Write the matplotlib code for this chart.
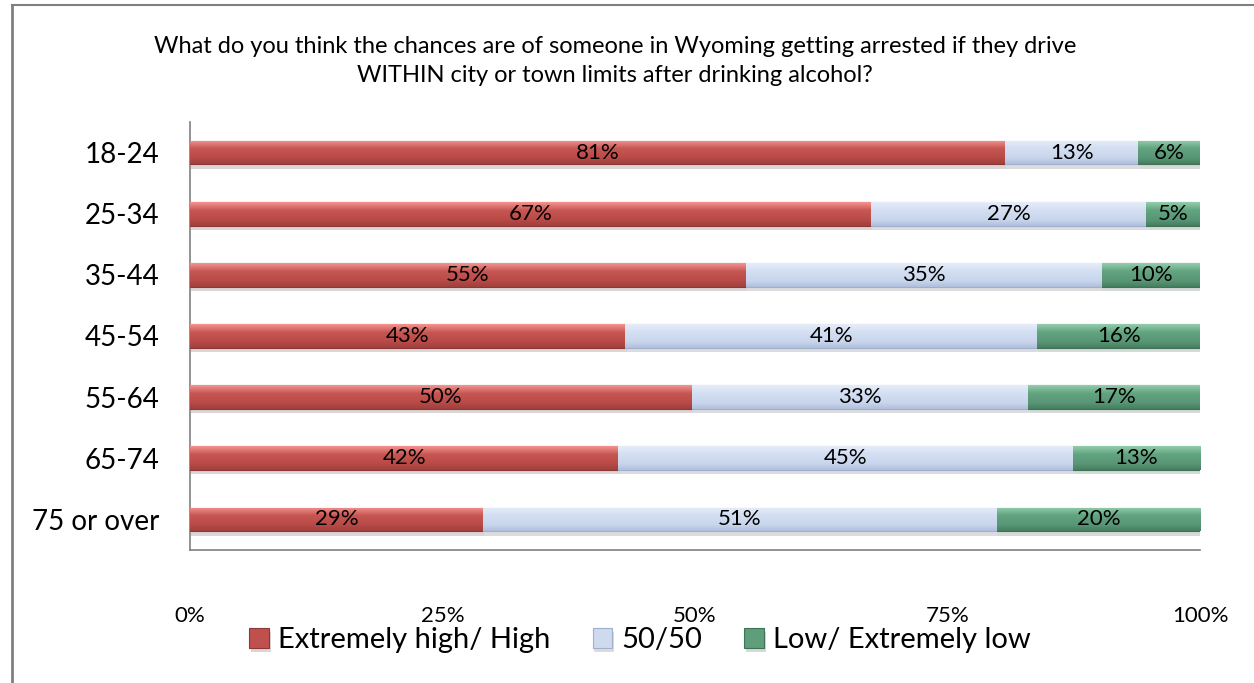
import matplotlib.pyplot as plt
import matplotlib.patheffects as pe
import numpy as np
from matplotlib.colors import LinearSegmentedColormap

plt.rcParams['font.family'] = ['Lato', 'DejaVu Sans']

groups = ['18-24', '25-34', '35-44', '45-54', '55-64', '65-74', '75 or over']
# shares (labels are rounded)
high = [80.7, 67.4, 55.0, 43.1, 49.7, 42.4, 29.0]
fifty = [13.2, 27.3, 35.3, 40.8, 33.3, 45.0, 50.9]
low = [6.1, 5.3, 9.7, 16.1, 17.0, 12.6, 20.1]
series_names = ['Extremely high/ High', '50/50', 'Low/ Extremely low']
title = ('What do you think the chances are of someone in Wyoming getting arrested if they drive\n'
         'WITHIN city or town limits after drinking alcohol?')

colors = ['#C0504D', '#CFDAEF', '#5E9E7B']
edges = ['#8C3836', '#9FB0CC', '#3E7455']
grads = [['#F4938F', '#C65652', '#B84A47', '#9E403D'],
         ['#E6EDF9', '#D3DEF2', '#C9D5EC', '#AFBFDC'],
         ['#93CDAC', '#62A37F', '#589676', '#457E5F']]

fig = plt.figure(figsize=(12.54, 6.83), dpi=100)
ax = fig.add_axes([190/1254, 1-550/683, 1010/1254, 428/683])

y = np.arange(len(groups))
h = 0.39
left = np.zeros(len(groups))
for vals, name, c, ec, g in zip([high, fifty, low], series_names, colors, edges, grads):
    vals = np.array(vals)
    bars = ax.barh(y, vals, left=left, height=h, color=c, edgecolor=ec, linewidth=0.8,
                   label=name, zorder=3)
    cmap = LinearSegmentedColormap.from_list('g', [(0, g[0]), (0.35, g[1]), (0.75, g[2]), (1, g[3])])
    grad = np.linspace(0, 1, 64).reshape(-1, 1)
    for b in bars:
        b.set_path_effects([pe.SimplePatchShadow(offset=(1, -3), alpha=0.18), pe.Normal()])
        x0, y0, w, bh = b.get_x(), b.get_y(), b.get_width(), b.get_height()
        im = ax.imshow(grad, cmap=cmap, aspect='auto', origin='upper',
                       extent=(x0, x0 + w, y0 + bh, y0), zorder=3.5)
        im.set_clip_path(b)
    for yi, l, v in zip(y, left, vals):
        ax.text(l + v/2, yi, f'{round(v)}%', ha='center', va='center', fontsize=16, zorder=5)
    left = left + vals

ax.set_xlim(0, 100)
ax.set_ylim(len(groups) - 0.5, -0.5)
ax.set_yticks(y)
ax.set_yticklabels(groups, fontsize=20)
ax.set_xticks([0, 25, 50, 75, 100])
ax.set_xticklabels(['0%', '25%', '50%', '75%', '100%'], fontsize=16)
ax.tick_params(axis='both', length=0)
ax.tick_params(axis='x', pad=40)
ax.tick_params(axis='y', pad=22)
for s in ['top', 'right']:
    ax.spines[s].set_visible(False)
for s in ['left', 'bottom']:
    ax.spines[s].set_color('#808080')
    ax.spines[s].set_linewidth(1.2)

fig.text(615/1254, 1-61/683, title, ha='center', va='center', fontsize=17, linespacing=1.45)

leg = ax.legend(loc='center', bbox_to_anchor=(640/1254, 1-640/683), bbox_transform=fig.transFigure,
                ncol=3, frameon=False, fontsize=21, handlelength=0.68, handleheight=0.68,
                columnspacing=1.45, handletextpad=0.3)

# outer frame
fig.add_artist(plt.Line2D([12/1254, 1], [1-5/683, 1-5/683], color='#808080', lw=1.5))
fig.add_artist(plt.Line2D([12/1254, 12/1254], [0, 1-5/683], color='#808080', lw=2))

fig.savefig('out.png', dpi=100)
